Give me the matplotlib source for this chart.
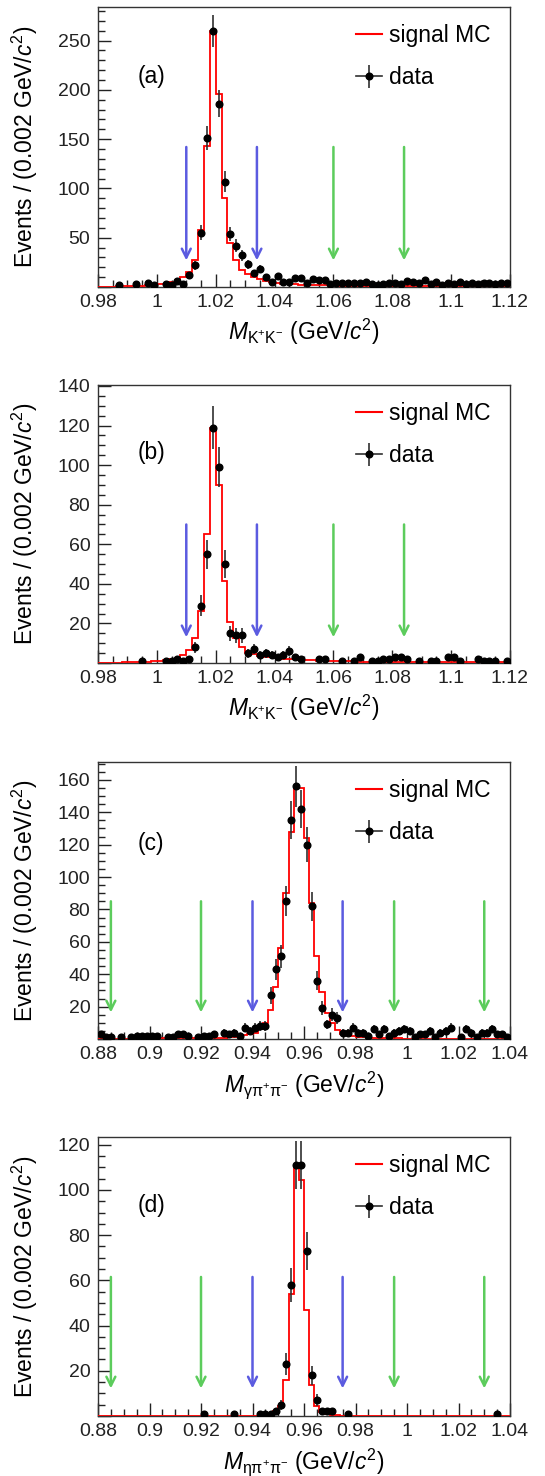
import numpy as np
import matplotlib
matplotlib.use("Agg")
import matplotlib.pyplot as plt
from matplotlib.ticker import MultipleLocator, FuncFormatter
from matplotlib.lines import Line2D
from matplotlib.legend_handler import HandlerTuple

plt.rcParams['font.family'] = ['Liberation Sans', 'DejaVu Sans']
plt.rcParams['mathtext.fontset'] = 'custom'
plt.rcParams['mathtext.rm'] = 'Liberation Sans'
plt.rcParams['mathtext.it'] = 'Liberation Sans:italic'
plt.rcParams['mathtext.bf'] = 'Liberation Sans:bold'

# ---------------- data ----------------
edges_kk = (0.98, 1.12)     # 70 bins of 0.002
edges_eta = (0.88, 1.04)    # 80 bins of 0.002

data_a = [0, 0, 0, 2, 0, 0, 3, 0, 4, 2,
          0, 3, 2, 6, 3, 12, 22, 55, 151, 260,
          186, 107, 54, 42, 32, 23, 14, 18, 10, 5,
          11, 5, 5, 9, 9, 4, 8, 7, 7, 3,
          4, 4, 4, 4, 4, 5, 3, 2, 3, 4,
          4, 3, 6, 5, 4, 7, 3, 5, 2, 4,
          3, 5, 3, 4, 3, 4, 4, 3, 4, 4]
mc_a = [0.3, 0.4, 0.5, 0.6, 0.7, 0.9, 1.1, 1.3, 1.6, 2.0,
        2.7, 3.5, 5.0, 7.0, 10.0, 15.0, 27.7, 57.5, 143, 260,
        196, 90, 45, 27, 17.6, 12.9, 10.0, 8.0, 6.0, 4.7,
        4.0, 3.5, 3.1, 2.8, 2.5, 2.3, 2.1, 1.9, 1.8, 1.7,
        1.6, 1.5, 1.4, 1.35, 1.3, 1.25, 1.2, 1.15, 1.1, 1.05,
        1.0, 0.95, 0.9, 0.88, 0.85, 0.82, 0.8, 0.77, 0.75, 0.72,
        0.7, 0.68, 0.66, 0.64, 0.62, 0.6, 0.58, 0.56, 0.55, 0.54]

data_b = [0, 0, 0, 0, 0, 0, 0, 1, 0, 0,
          0, 1, 1, 2, 1, 2, 8, 29, 55, 119,
          99, 50, 15, 14, 14, 5, 7, 4, 5, 4,
          3, 4, 6, 3, 2, 0, 0, 2, 2, 0,
          0, 1, 0, 1, 3, 0, 1, 1, 2, 2,
          3, 3, 2, 0, 1, 0, 1, 1, 0, 3,
          3, 1, 0, 0, 2, 1, 1, 1, 0, 1]
mc_b = [0.1, 0.15, 0.2, 0.25, 0.3, 0.4, 0.5, 0.6, 0.75, 0.9,
        1.2, 1.5, 2.0, 2.7, 4.2, 6.7, 12.4, 26.5, 65, 119,
        90, 41.3, 20.8, 12.6, 7.9, 5.0, 4.4, 3.7, 3.2, 2.8,
        2.5, 2.2, 2.0, 1.8, 1.6, 1.45, 1.3, 1.2, 1.1, 1.0,
        0.95, 0.9, 0.85, 0.8, 0.75, 0.7, 0.67, 0.64, 0.6, 0.57,
        0.55, 0.52, 0.5, 0.48, 0.46, 0.44, 0.42, 0.4, 0.39, 0.38,
        0.37, 0.36, 0.35, 0.34, 0.33, 0.32, 0.31, 0.3, 0.3, 0.3]

data_c = [3, 1, 1, 0, 1, 0, 1, 2, 2, 2,
          2, 2, 0, 1, 1, 3, 3, 2, 0, 1,
          2, 2, 3, 0, 4, 3, 4, 2, 7, 5,
          7, 8, 8, 27, 43, 51, 85, 135, 156, 142,
          120, 82, 36, 19, 9, 15, 13, 4, 4, 7,
          4, 4, 2, 6, 3, 6, 2, 4, 5, 6,
          5, 1, 3, 3, 5, 1, 4, 5, 7, 0,
          1, 6, 4, 1, 4, 4, 6, 3, 3, 1]
mc_c = [0.1, 0.1, 0.1, 0.12, 0.14, 0.16, 0.18, 0.2, 0.22, 0.25,
        0.28, 0.3, 0.33, 0.36, 0.4, 0.44, 0.48, 0.52, 0.56, 0.6,
        0.65, 0.7, 0.75, 0.8, 0.9, 1.0, 1.2, 1.6, 2.3, 2.8,
        3.7, 6.0, 10, 18, 32, 56, 90, 128, 155, 155,
        124, 84, 51, 29, 16, 10, 5.3, 3.3, 2.5, 1.8,
        1.4, 1.1, 0.9, 0.75, 0.6, 0.5, 0.45, 0.4, 0.35, 0.3,
        0.28, 0.26, 0.24, 0.22, 0.2, 0.18, 0.17, 0.16, 0.15, 0.14,
        0.13, 0.12, 0.11, 0.1, 0.1, 0.1, 0.1, 0.1, 0.1, 0.1]

data_d = [0, 0, 0, 0, 0, 0, 0, 0, 0, 0,
          0, 0, 0, 0, 0, 0, 0, 0, 0, 0,
          1, 0, 0, 0, 0, 0, 1, 0, 0, 0,
          0, 1, 1, 1, 2, 5, 23, 58, 111, 111,
          73, 18, 7, 2, 2, 2, 0, 0, 1, 0,
          0, 0, 0, 0, 0, 0, 0, 0, 0, 0,
          0, 0, 0, 0, 0, 0, 0, 0, 0, 0,
          0, 0, 0, 0, 0, 0, 0, 1, 0, 0]
mc_d = [0.05] * 30 + [0.2, 0.3, 0.5, 0.8, 2.0, 4.4, 16, 54, 110.6, 104.4,
                      46.8, 13.7, 4.4, 1.9, 0.9, 0.5, 0.3, 0.2] + [0.05] * 32

# signal-region (blue) and sideband (green) cut positions
blue_ab = [1.010, 1.034]
green_ab = [1.060, 1.084]
blue_cd = [0.940, 0.975]
green_cd = [0.885, 0.920, 0.995, 1.030]

panels = [
    dict(tag='(a)', data=data_a, mc=mc_a, rng=edges_kk, ylim=284, ymaj=50, ymin=10,
         arrow=(142, 27), blue=blue_ab, green=green_ab,
         xlabel=r'$M_{\mathrm{K^{+}K^{-}}}$ (GeV/$c^{2}$)', tagy=0.75),
    dict(tag='(b)', data=data_b, mc=mc_b, rng=edges_kk, ylim=140.5, ymaj=20, ymin=5,
         arrow=(70, 13), blue=blue_ab, green=green_ab,
         xlabel=r'$M_{\mathrm{K^{+}K^{-}}}$ (GeV/$c^{2}$)', tagy=0.758),
    dict(tag='(c)', data=data_c, mc=mc_c, rng=edges_eta, ylim=171, ymaj=20, ymin=5,
         arrow=(85, 16.4), blue=blue_cd, green=green_cd,
         xlabel=r'$M_{\mathrm{\gamma\pi^{+}\pi^{-}}}$ (GeV/$c^{2}$)', tagy=0.704),
    dict(tag='(d)', data=data_d, mc=mc_d, rng=edges_eta, ylim=123.4, ymaj=20, ymin=5,
         arrow=(61.5, 12.2), blue=blue_cd, green=green_cd,
         xlabel=r'$M_{\mathrm{\eta\pi^{+}\pi^{-}}}$ (GeV/$c^{2}$)', tagy=0.756),
]

fig = plt.figure(figsize=(5.45, 14.76), dpi=100)
W, H = 545.0, 1476.0
axes_px = [(7, 287), (385, 663), (762, 1039), (1137, 1416)]
left_px, right_px = 98, 510

blue_col = '#5b5be0'
green_col = '#5ccc5c'

def yfmt(v, pos):
    if abs(v) < 1e-9:
        return ''
    return '%g' % v

def xfmt(v, pos):
    return '%g' % round(v, 4)

for p, (top, bot) in zip(panels, axes_px):
    ax = fig.add_axes([left_px / W, 1 - bot / H, (right_px - left_px) / W, (bot - top) / H])
    lo, hi = p['rng']
    nb = len(p['mc'])
    edges = np.linspace(lo, hi, nb + 1)
    centers = 0.5 * (edges[:-1] + edges[1:])
    d = np.array(p['data'], dtype=float)
    m = d > 0

    ax.stairs(p['mc'], edges, color='#ff0000', lw=1.3, zorder=3)
    eb = ax.errorbar(centers[m], d[m], yerr=np.sqrt(d[m]), fmt='o', ms=4.8,
                     color='black', ecolor='#303030', elinewidth=1.2, capsize=0, zorder=4)

    for xv in p['blue']:
        ax.annotate('', xy=(xv, p['arrow'][1]), xytext=(xv, p['arrow'][0]),
                    arrowprops=dict(arrowstyle='->', color=blue_col, lw=1.8,
                                    mutation_scale=16, shrinkA=0, shrinkB=0), zorder=2)
    for xv in p['green']:
        ax.annotate('', xy=(xv, p['arrow'][1]), xytext=(xv, p['arrow'][0]),
                    arrowprops=dict(arrowstyle='->', color=green_col, lw=1.8,
                                    mutation_scale=16, shrinkA=0, shrinkB=0), zorder=2)

    ax.set_xlim(lo, hi)
    ax.set_ylim(0, p['ylim'])
    ax.xaxis.set_major_locator(MultipleLocator(0.02))
    ax.xaxis.set_minor_locator(MultipleLocator(0.005))
    ax.yaxis.set_major_locator(MultipleLocator(p['ymaj']))
    ax.yaxis.set_minor_locator(MultipleLocator(p['ymin']))
    ax.yaxis.set_major_formatter(FuncFormatter(yfmt))
    ax.xaxis.set_major_formatter(FuncFormatter(xfmt))
    ax.tick_params(which='both', direction='in', top=False, right=False,
                   labelsize=14, colors='#222222', width=1.0)
    ax.tick_params(which='major', length=9.5)
    ax.tick_params(which='minor', length=5)
    ax.tick_params(axis='x', pad=5)
    ax.tick_params(axis='y', pad=5.5)
    for s in ax.spines.values():
        s.set_color('#333333')
        s.set_linewidth(1.0)

    ax.set_ylabel(r'Events / (0.002 GeV/$c^{2}$)', fontsize=16.5)
    ax.yaxis.set_label_coords(-0.14, 0.5)
    ax.set_xlabel(p['xlabel'], fontsize=16.5)
    ax.xaxis.set_label_coords(0.5, -0.108)

    ax.text(0.097, p['tagy'], p['tag'], transform=ax.transAxes, fontsize=16.5,
            ha='left', va='center')

    red_h = Line2D([], [], color='#ff0000', lw=1.5)
    hline = Line2D([], [], color='#303030', lw=1.2)
    leg = ax.legend([red_h, (hline, eb)], ['signal MC', 'data'],
                    handler_map={tuple: HandlerTuple(ndivide=1)},
                    loc='upper left', bbox_to_anchor=(0.625, 0.94),
                    frameon=False, fontsize=16.5, handlelength=1.15,
                    handletextpad=0.3, labelspacing=0.85, borderpad=0,
                    borderaxespad=0, numpoints=1)

fig.savefig('out.png', dpi=100)
